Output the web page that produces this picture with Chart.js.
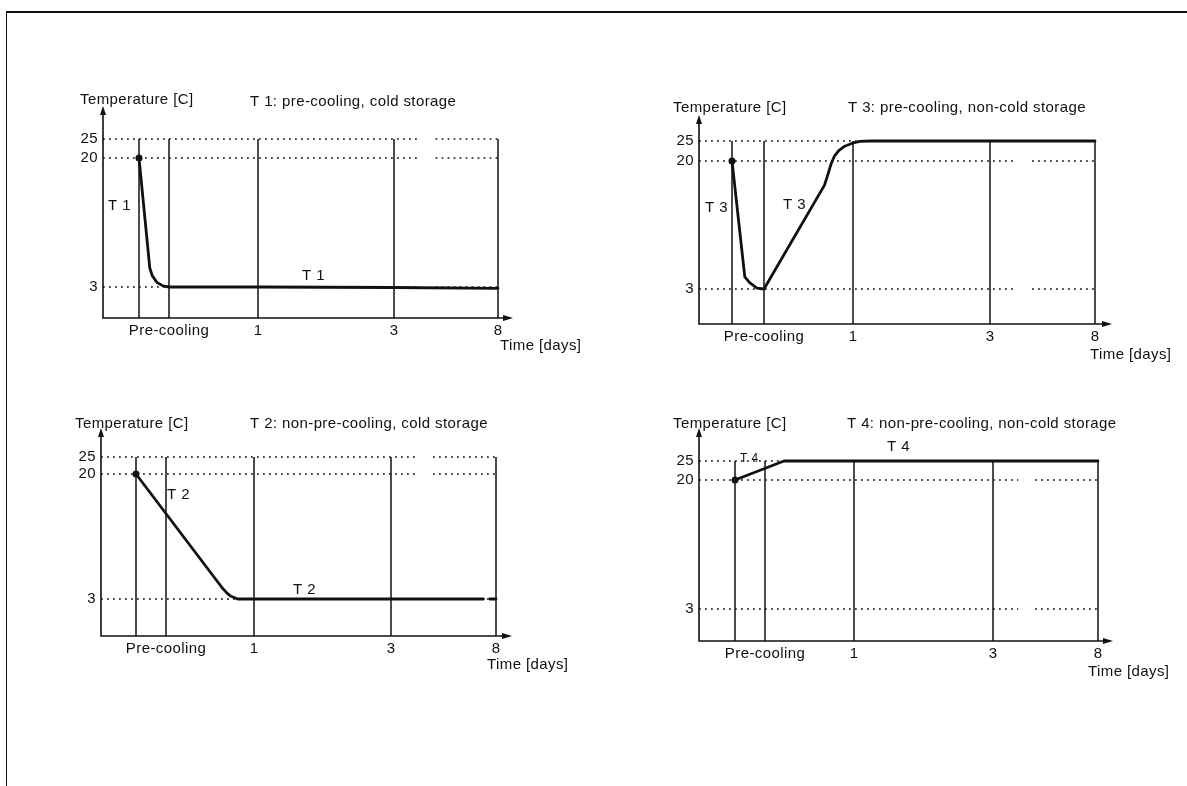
<!DOCTYPE html>
<html><head><meta charset="utf-8">
<script src="https://cdn.jsdelivr.net/npm/chart.js@4/dist/chart.umd.min.js"></script>
<style>
html,body{margin:0;padding:0;background:#fff;width:1187px;height:786px;overflow:hidden}
#frame{position:absolute;left:6px;top:11px;width:1181px;height:775px;border-top:2px solid #111;border-left:1.5px solid #111;box-sizing:border-box}
canvas{position:absolute;left:0;top:0}
</style></head><body>
<div id="frame"></div>
<canvas id="c1" width="1187" height="786"></canvas>
<canvas id="c2" width="1187" height="786"></canvas>
<canvas id="c3" width="1187" height="786"></canvas>
<canvas id="c4" width="1187" height="786"></canvas>
<script>
// ---------------- data ----------------
const PRE_END = 0.25;                       // end of pre-cooling (days)
const gridDays = [0, PRE_END, 1, 3, 8];     // solid vertical reference lines
const xTickValues = [PRE_END, 1, 3, 8];
const xTickLabels = ['Pre-cooling', '1', '3', '8'];
const yTickValues = [3, 20, 25];
const yTickLabels = ['3', '20', '25'];
const axisBreak = [4.2, 5.0];               // gap in the dotted lines (days)
const X_MIN = -0.3, X_MAX = 8.6, Y_MIN = 0, Y_MAX = 28;

const t1Days = [0, 0.09, 0.11, 0.15, 0.2, 0.25, 1, 3, 8];
const t1Temp = [20, 5.5, 4.5, 3.6, 3.15, 3, 3, 2.95, 2.87];

const t2Days = [0, 0.73, 0.77, 0.8, 0.86, 1, 3, 7.4, 7.55, 7.7, 8];
const t2Temp = [20, 4.5, 3.8, 3.4, 3, 3, 3, 3, null, 3, 3];

const t3Days = [0, 0.1, 0.14, 0.195, 0.25, 0.76, 0.79, 0.815, 0.845, 0.88, 0.93, 1.0, 1.1, 1.25, 3, 8];
const t3Temp = [20, 4.6, 3.8, 3.13, 3, 16.8, 18.3, 19.6, 21.3, 22.6, 23.7, 24.5, 24.9, 25, 25, 25];

const t4Days = [0, 0.41, 8];
const t4Temp = [20, 25, 25];

const titles = ['T 1: pre-cooling, cold storage', 'T 2: non-pre-cooling, cold storage',
                'T 3: pre-cooling, non-cold storage', 'T 4: non-pre-cooling, non-cold storage'];
const seriesNames = ['T 1', 'T 2', 'T 3', 'T 4'];
const yAxisTitle = 'Temperature [C]';
const xAxisTitle = 'Time [days]';

// ---------------- layout (page pixels) ----------------
const layouts = [
  {id:'c1', days:t1Days, temp:t1Temp, left:103, right:513, top:106, bottom:318,
   xPx:[139,169,258,394,498], yPx:[287,158,139],
   text:[[yAxisTitle,80,100],[titles[0],250,102],[xAxisTitle,500,346],[seriesNames[0],108,206],[seriesNames[0],302,276]]},
  {id:'c2', days:t2Days, temp:t2Temp, left:101, right:512, top:428, bottom:636,
   xPx:[136,166,254,391,496], yPx:[599,474,457],
   text:[[yAxisTitle,75,424],[titles[1],250,424],[xAxisTitle,487,665],[seriesNames[1],167,495],[seriesNames[1],293,590]]},
  {id:'c3', days:t3Days, temp:t3Temp, left:699, right:1112, top:115, bottom:324,
   xPx:[732,764,853,990,1095], yPx:[289,161,141],
   text:[[yAxisTitle,673,108],[titles[2],848,108],[xAxisTitle,1090,355],[seriesNames[2],705,208],[seriesNames[2],783,205]]},
  {id:'c4', days:t4Days, temp:t4Temp, left:699, right:1113, top:428, bottom:641,
   xPx:[735,765,854,993,1098], yPx:[609,480,461],
   text:[[yAxisTitle,673,424],[titles[3],847,424],[xAxisTitle,1088,672],[seriesNames[3],740,459,12],[seriesNames[3],887,447]]}
];
const Y_W = 40, X_H = 30;
const FONT = '"Liberation Sans", Arial, sans-serif';
const FS = 15;
const INK = '#111';

// ---------------- piecewise scale ----------------
const knotStore = {};
class PiecewiseScale extends Chart.LinearScale {
  _knots() { return knotStore[this.chart.canvas.id][this.axis]; }
  getPixelForValue(value) {
    if (value === null || value === undefined || isNaN(value)) return NaN;
    const k = this._knots();
    let i = 0;
    while (i < k.length - 2 && value > k[i + 1][0]) i++;
    const [v0, f0] = k[i], [v1, f1] = k[i + 1];
    return this.getPixelForDecimal(f0 + (value - v0) / (v1 - v0) * (f1 - f0));
  }
  getValueForPixel(pixel) {
    const f = this.getDecimalForPixel(pixel);
    const k = this._knots();
    let i = 0;
    while (i < k.length - 2 && f > k[i + 1][1]) i++;
    const [v0, f0] = k[i], [v1, f1] = k[i + 1];
    return v0 + (f - f0) / (f1 - f0) * (v1 - v0);
  }
}
PiecewiseScale.id = 'piecewise';
PiecewiseScale.defaults = Chart.LinearScale.defaults;
Chart.register(PiecewiseScale);

const textStore = {};
const figurePlugin = {
  id: 'figure',
  beforeDraw(chart) { chart.ctx.letterSpacing = '0.4px'; },
  afterDatasetsDraw(chart) {
    const {ctx, chartArea: a} = chart;
    ctx.save();
    ctx.strokeStyle = INK; ctx.fillStyle = INK; ctx.lineWidth = 1.6;
    ctx.beginPath();
    ctx.moveTo(a.left, a.top + 6); ctx.lineTo(a.left, a.bottom); ctx.lineTo(a.right - 8, a.bottom);
    ctx.stroke();
    ctx.beginPath(); ctx.moveTo(a.left, a.top); ctx.lineTo(a.left - 3, a.top + 9); ctx.lineTo(a.left + 3, a.top + 9); ctx.closePath(); ctx.fill();
    ctx.beginPath(); ctx.moveTo(a.right, a.bottom); ctx.lineTo(a.right - 10, a.bottom - 3); ctx.lineTo(a.right - 10, a.bottom + 3); ctx.closePath(); ctx.fill();
    ctx.restore();
  },
  afterDraw(chart) {
    const ctx = chart.ctx;
    ctx.save();
    ctx.fillStyle = INK; ctx.textAlign = 'left'; ctx.textBaseline = 'middle';
    for (const [t, x, y, size] of textStore[chart.canvas.id]) {
      ctx.font = (size || FS) + 'px ' + FONT;
      ctx.fillText(t, x, y);
    }
    ctx.restore();
  }
};

function pts(xs, ys) { return xs.map((x, i) => ({x: x, y: ys[i]})); }

for (const L of layouts) {
  const xVals = [X_MIN, ...gridDays, X_MAX];
  const xP = [L.left, ...L.xPx, L.right];
  const yVals = [Y_MIN, ...yTickValues, Y_MAX];
  const yP = [L.bottom, ...L.yPx, L.top];
  knotStore[L.id] = {
    x: xVals.map((v, i) => [v, (xP[i] - L.left) / (L.right - L.left)]),
    y: yVals.map((v, i) => [v, (L.bottom - yP[i]) / (L.bottom - L.top)])
  };
  textStore[L.id] = L.text;

  const datasets = [{
    data: pts(L.days, L.temp),
    borderColor: INK, borderWidth: 2.8, borderJoinStyle: 'round', borderCapStyle: 'round',
    pointRadius: c => c.dataIndex === 0 ? 3.5 : 0,
    pointBackgroundColor: INK, pointBorderWidth: 0, spanGaps: false, tension: 0
  }];
  for (const d of gridDays) {
    datasets.push({data: [{x: d, y: Y_MIN}, {x: d, y: 25}], borderColor: INK, borderWidth: 1.5, pointRadius: 0});
  }
  for (const lv of yTickValues) {
    datasets.push({
      data: [{x: X_MIN, y: lv}, {x: axisBreak[0], y: lv}, {x: (axisBreak[0] + axisBreak[1]) / 2, y: null},
             {x: axisBreak[1], y: lv}, {x: 8, y: lv}],
      borderColor: INK, borderWidth: 1.4, borderDash: [1.8, 4.2], pointRadius: 0, spanGaps: false
    });
  }

  new Chart(document.getElementById(L.id), {
    type: 'line',
    data: {datasets},
    plugins: [figurePlugin],
    options: {
      responsive: false, animation: false, devicePixelRatio: 1,
      layout: {padding: {left: L.left - Y_W, right: 1187 - L.right, top: L.top, bottom: 786 - L.bottom - X_H}},
      plugins: {legend: {display: false}, tooltip: {enabled: false}},
      events: [],
      scales: {
        x: {
          type: 'piecewise', axis: 'x', position: 'bottom', min: X_MIN, max: X_MAX, bounds: 'data',
          grid: {display: false, drawTicks: false}, border: {display: false},
          afterBuildTicks: s => { s.ticks = xTickValues.map(v => ({value: v})); },
          afterFit: s => { s.height = X_H; },
          ticks: {autoSkip: false, maxRotation: 0, minRotation: 0, padding: 4, color: INK,
                  font: {family: FONT, size: FS}, callback: (v, i) => xTickLabels[i]}
        },
        y: {
          type: 'piecewise', axis: 'y', position: 'left', min: Y_MIN, max: Y_MAX, bounds: 'data',
          grid: {display: false, drawTicks: false}, border: {display: false},
          afterBuildTicks: s => { s.ticks = yTickValues.map(v => ({value: v})); },
          afterFit: s => { s.width = Y_W; },
          ticks: {autoSkip: false, padding: 5, color: INK,
                  font: {family: FONT, size: FS}, callback: (v, i) => yTickLabels[i]}
        }
      }
    }
  });
}
</script>
</body></html>
